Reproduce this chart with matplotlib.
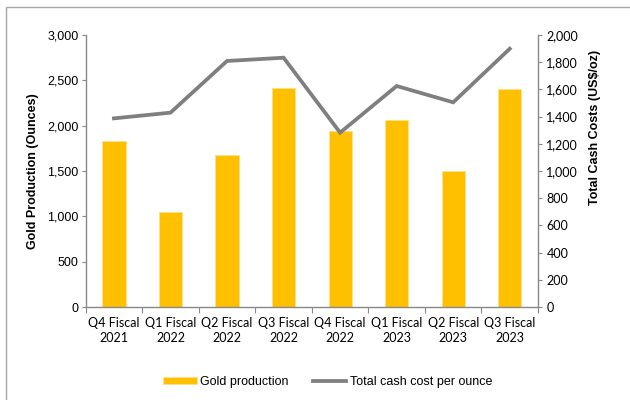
import matplotlib.pyplot as plt
from matplotlib.patches import Rectangle
from matplotlib.ticker import FuncFormatter, FixedLocator

quarters = ['Q4 Fiscal\n2021', 'Q1 Fiscal\n2022', 'Q2 Fiscal\n2022', 'Q3 Fiscal\n2022',
            'Q4 Fiscal\n2022', 'Q1 Fiscal\n2023', 'Q2 Fiscal\n2023', 'Q3 Fiscal\n2023']
gold_production = [1834, 1044, 1680, 2419, 1941, 2063, 1497, 2408]
cash_cost = [1387, 1429, 1809, 1833, 1282, 1625, 1505, 1899]

gold = '#FFC000'
grey = '#7F7F7F'
axis_grey = '#898989'

plt.rcParams['font.family'] = ['Liberation Sans', 'DejaVu Sans']

fig = plt.figure(figsize=(6.3, 4.0), dpi=100)
ax = fig.add_axes([0.136, 0.2325, 0.718, 0.68])
ax2 = ax.twinx()

x = list(range(len(quarters)))
bars = ax.bar(x, gold_production, width=0.41, color=gold, edgecolor='#FFE08A',
              linewidth=0.6, label='Gold production', zorder=2)
line, = ax2.plot(x, cash_cost, color=grey, linewidth=2.7, label='Total cash cost per ounce',
                 solid_joinstyle='miter')

ax.set_xlim(-0.5, len(quarters) - 0.5)
ax.set_ylim(0, 3000)
ax2.set_ylim(0, 2000)
ax.set_yticks(range(0, 3001, 500))
ax2.set_yticks(range(0, 2001, 200))
fmt = FuncFormatter(lambda v, p: f'{int(v):,}')
ax.yaxis.set_major_formatter(fmt)
ax2.yaxis.set_major_formatter(fmt)

# ticks on category boundaries, labels at centres
ax.xaxis.set_major_locator(FixedLocator([i - 0.5 for i in range(len(quarters) + 1)]))
ax.xaxis.set_major_formatter(FuncFormatter(lambda v, p: ''))
ax.xaxis.set_minor_locator(FixedLocator(x))
ax.set_xticklabels(quarters, minor=True, family=['Lato', 'DejaVu Sans'], fontsize=9,
                   linespacing=1.35)
ax.tick_params(axis='x', which='minor', length=0, pad=7)
ax.tick_params(axis='x', which='major', length=4, color=axis_grey, direction='out')
ax.tick_params(axis='y', length=3, color=axis_grey, labelsize=9, pad=2)
ax2.tick_params(axis='y', length=3, color=axis_grey, labelsize=9, pad=3)
for lbl in ax2.get_yticklabels():
    lbl.set_family(['Lato', 'DejaVu Sans'])

for a in (ax, ax2):
    a.spines['top'].set_visible(False)
    for s in ('left', 'right', 'bottom'):
        a.spines[s].set_color(axis_grey)
        a.spines[s].set_linewidth(1.0)
ax.spines['right'].set_visible(False)
ax2.spines['left'].set_visible(False)
ax2.spines['bottom'].set_visible(False)

ax.set_ylabel('Gold Production (Ounces)', fontsize=9, fontweight='bold', labelpad=6)
ax2.set_ylabel('Total Cash Costs (US$/oz)', fontsize=9, fontweight='bold')
ax2.yaxis.set_label_coords(1.113, 0.66)

fig.legend([bars, line], ['Gold production', 'Total cash cost per ounce'],
           loc='center', bbox_to_anchor=(0.52, 0.045), ncol=2, frameon=False,
           fontsize=9, handlelength=2.7, handleheight=0.55, columnspacing=1.9,
           handletextpad=0.3)

fig.patches.append(Rectangle((0.009, -0.01), 1.0, 0.993, transform=fig.transFigure,
                             fill=False, edgecolor='#A6A6A6', linewidth=1.0))

plt.savefig('out.png', dpi=100)
